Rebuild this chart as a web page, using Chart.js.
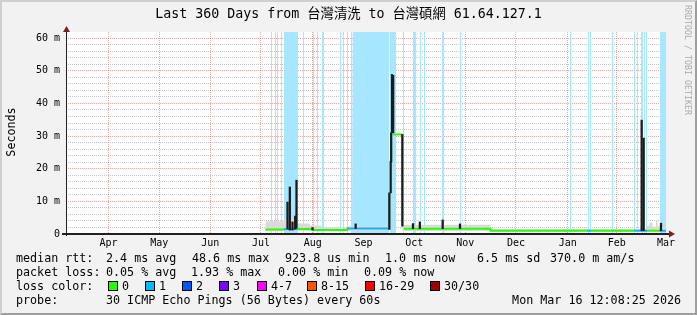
<!DOCTYPE html>
<html>
<head>
<meta charset="utf-8">
<script src="https://cdn.jsdelivr.net/npm/chart.js@4.4.1/dist/chart.umd.min.js"></script>
<style>
  html, body { margin: 0; padding: 0; background: #f2f2f2; }
  #wrap { position: relative; width: 697px; height: 315px; overflow: hidden;
          font-family: "DejaVu Sans Mono", "Noto Sans CJK TC", monospace; color: #000; }
  #frame { position: absolute; left: 0; top: 0; width: 697px; height: 315px; box-sizing: border-box;
           border-top: 2px solid #cfcfcf; border-left: 2px solid #cfcfcf;
           border-right: 2px solid #9e9e9e; border-bottom: 2px solid #9e9e9e; background: #f2f2f2; }
  canvas { position: absolute; left: 0; top: 0; }
  #title { position: absolute; left: 0; top: 6px; width: 697px; text-align: center;
           font-size: 13.3px; line-height: 16px; white-space: pre; }
  #ylab { position: absolute; left: -39px; top: 125px; width: 100px; text-align: center;
          font-size: 11.7px; line-height: 14px; transform: rotate(-90deg); }
  #mark { position: absolute; left: 628px; top: 55px; width: 120px; text-align: center;
          font-size: 8.3px; line-height: 10px; color: #ababab; transform: rotate(90deg); white-space: pre; }
  .t { position: absolute; white-space: pre; font-size: 11.7px; line-height: 14px; }
  .sw { position: absolute; width: 10px; height: 10px; box-sizing: border-box; border: 1px solid #000; }
</style>
</head>
<body>
<div id="wrap">
  <div id="frame"></div>
  <canvas id="chart" width="697" height="315"></canvas>
  <div id="title">Last 360 Days from 台灣清洗 to 台灣碩網 61.64.127.1</div>
  <div id="ylab">Seconds</div>
  <div id="mark">RRDTOOL / TOBI OETIKER</div>

  <span class="t" style="left:16px;top:251px">median rtt:</span>
  <span class="t" style="left:106px;top:251px">2.4 ms avg</span>
  <span class="t" style="left:192px;top:251px">48.6 ms max</span>
  <span class="t" style="left:285px;top:251px">923.8 us min</span>
  <span class="t" style="left:385px;top:251px">1.0 ms now</span>
  <span class="t" style="left:477px;top:251px">6.5 ms sd</span>
  <span class="t" style="left:550px;top:251px">370.0 m am/s</span>

  <span class="t" style="left:16px;top:265px">packet loss:</span>
  <span class="t" style="left:106px;top:265px">0.05 % avg</span>
  <span class="t" style="left:191px;top:265px">1.93 % max</span>
  <span class="t" style="left:278px;top:265px">0.00 % min</span>
  <span class="t" style="left:364px;top:265px">0.09 % now</span>

  <span class="t" style="left:16px;top:279px">loss color:</span>
  <span class="sw" style="left:108px;top:281px;background:#26ff00"></span><span class="t" style="left:122px;top:279px">0</span>
  <span class="sw" style="left:145px;top:281px;background:#00b8ff"></span><span class="t" style="left:159px;top:279px">1</span>
  <span class="sw" style="left:182px;top:281px;background:#0059ff"></span><span class="t" style="left:196px;top:279px">2</span>
  <span class="sw" style="left:219px;top:281px;background:#7e00ff"></span><span class="t" style="left:233px;top:279px">3</span>
  <span class="sw" style="left:257px;top:281px;background:#ff00ff"></span><span class="t" style="left:271px;top:279px">4-7</span>
  <span class="sw" style="left:307px;top:281px;background:#ff5500"></span><span class="t" style="left:321px;top:279px">8-15</span>
  <span class="sw" style="left:365px;top:281px;background:#ff0000"></span><span class="t" style="left:379px;top:279px">16-29</span>
  <span class="sw" style="left:430px;top:281px;background:#a10000"></span><span class="t" style="left:444px;top:279px">30/30</span>

  <span class="t" style="left:16px;top:293px">probe:</span>
  <span class="t" style="left:106px;top:293px">30 ICMP Echo Pings (56 Bytes) every 60s</span>
  <span class="t" style="right:16px;top:293px">Mon Mar 16 12:08:25 2026</span>
</div>

<script>
// time window: 360 days ending at the graph timestamp, x values are days since window start
const endTime = Date.UTC(2026, 2, 16, 12, 8, 25);
const spanDays = 360;
const startTime = endTime - spanDays * 86400000;
const dayOf = s => (Date.parse(s + 'T00:00:00Z') - startTime) / 86400000;

const monthNames = ['Apr','May','Jun','Jul','Aug','Sep','Oct','Nov','Dec','Jan','Feb','Mar'];
const monthEdges = ['2025-04-01','2025-05-01','2025-06-01','2025-07-01','2025-08-01','2025-09-01',
                    '2025-10-01','2025-11-01','2025-12-01','2026-01-01','2026-02-01','2026-03-01','2026-04-01'];

const yTop = 61.9; // ms, top of the value axis

// loss colours, index = loss bucket (0, 1, 2, 3, 4-7, 8-15, 16-29, 30/30)
const lossColors = ['#26ff00','#00b8ff','#0059ff','#7e00ff','#ff00ff','#ff5500','#ff0000','#a10000'];

// periods with 1/30 packet loss (background shading), [from, to] in days (0.6 day steps)
const lossBands = [
  [123.0,123.6],[125.4,126.0],[126.6,127.2],[129.0,129.6],[130.8,139.2],
  [142.2,142.8],[148.2,148.8],[150.6,151.2],[153.6,154.8],
  [164.4,165.0],[166.2,166.8],[168.6,169.2],[171.0,171.6],[172.2,193.8],
  [194.4,198.0],[201.0,201.6],[202.2,202.8],[208.2,210.0],[212.4,213.0],[214.8,215.4],
  [225.6,226.8],[236.4,237.0],[264.6,265.2],[302.4,303.0],[313.2,313.8],[314.4,315.0],
  [327.6,328.2],[340.8,341.4],[342.6,343.2],[343.8,344.4],[345.0,346.2],[346.8,347.4],
  [348.0,348.6],[356.4,360.0]
];

// smoke (spread of the 30 pings), ms, step values
const smokeDay = [119.6,130.9,139.0,146.3,153.3,168.3,193.6,193.7,202.8,254.7,345.0,348.0,350.0,352.0,354.0,355.0,357.0,358.0,360.0];
const smokeHi  = [3.9,  4.5,  3.2,  2.6,  2.0,  2.4,  2.4,  null, 2.8,  1.5,  1.6,  2.5,  3.5,  2.2,  4.3,  2.4,  3.3,  2.0,  2.0];
const smokeLo  = [0.9,  0.9,  0.9,  0.9,  0.9,  0.9,  0.9,  null, 0.9,  0.8,  0.8,  0.8,  0.8,  0.8,  0.8,  0.8,  0.8,  0.8,  0.8];

// median rtt, ms, with loss bucket of each step
const medDay  = [119.6,130.9,139.0,148.3,168.6,193.6,193.7,196.3,201.8,201.9,202.8,254.7,313.2,315.0,340.8,348.6,356.4,360.0];
const medMs   = [1.4,  1.5,  1.5,  1.2,  1.7,  1.7,  null, 30.5, 30.5, null, 1.6,  1.0,  1.0,  1.0,  1.0,  1.0,  1.0,  1.0];
const medLoss = [0,    1,    0,    0,    1,    1,    0,    0,    0,    0,    0,    0,    1,    0,    1,    0,    1,    1];

// dense smoke columns (dark spikes), ms
const spikeDay = [132.9,134.3,135.9,137.5,138.3,147.9,173.8,194.0,194.8,195.1,195.6,196.3,201.8,208.2,212.3,226.0,236.4,345.4,346.6,357.0];
const spikeLo  = [1.5,  1.2,  1.2,  1.5,  1.8,  1.2,  1.7,  1.4,  12.6, 22.0, 31.0, 31.0, 2.4,  1.6,  1.6,  1.6,  1.6,  1.0,  1.0,  1.0];
const spikeHi  = [9.8,  14.4, 3.7,  5.5,  16.5, 2.0,  3.1,  12.6, 22.3, 31.0, 48.9, 48.6, 30.5, 3.2,  3.7,  4.3,  3.1,  34.9, 29.4, 3.3];

const mono = 'DejaVu Sans Mono';
const majorGrid = 'rgba(235,60,60,0.45)';
const minorGrid = 'rgba(128,128,128,0.45)';

const bandPts = [];
lossBands.forEach(([s, e]) => {
  bandPts.push({x: s, y: 0}, {x: s, y: yTop}, {x: e, y: yTop}, {x: e, y: 0});
});

const rrdFrame = {
  id: 'rrdFrame',
  beforeDraw(chart) {
    const {ctx, chartArea: a} = chart;
    ctx.save();
    ctx.fillStyle = '#ffffff';
    ctx.fillRect(a.left, a.top, a.right - a.left, a.bottom - a.top);
    ctx.restore();
  },
  afterDraw(chart) {
    const {ctx, chartArea: a} = chart;
    ctx.save();
    ctx.fillStyle = '#202020';
    ctx.fillRect(a.left - 4, a.bottom - 1, a.right - a.left + 7, 2);
    ctx.fillRect(a.left, a.top - 2, 1, a.bottom - a.top + 4);
    ctx.fillStyle = '#7f1f1f';
    ctx.beginPath();
    ctx.moveTo(a.left + 0.5, a.top - 6);
    ctx.lineTo(a.left - 3, a.top);
    ctx.lineTo(a.left + 4, a.top);
    ctx.fill();
    ctx.beginPath();
    ctx.moveTo(a.right + 9, a.bottom);
    ctx.lineTo(a.right + 3, a.bottom - 3.5);
    ctx.lineTo(a.right + 3, a.bottom + 3.5);
    ctx.fill();
    ctx.restore();
  }
};

new Chart(document.getElementById('chart'), {
  type: 'line',
  data: {
    datasets: [
      {
        label: 'loss background',
        data: bandPts,
        borderColor: 'transparent',
        borderWidth: 0,
        backgroundColor: '#a6e6ff',
        fill: 'origin',
        order: 10
      },
      {
        label: 'smoke low',
        data: smokeDay.map((x, i) => ({x, y: smokeLo[i]})),
        borderColor: 'transparent',
        borderWidth: 0,
        stepped: true,
        fill: false,
        order: 8
      },
      {
        label: 'smoke',
        data: smokeDay.map((x, i) => ({x, y: smokeHi[i]})),
        borderColor: 'transparent',
        borderWidth: 0,
        backgroundColor: '#dadada',
        stepped: true,
        fill: '-1',
        order: 7
      },
      {
        label: 'median rtt',
        data: medDay.map((x, i) => ({x, y: medMs[i]})),
        borderWidth: 2,
        stepped: true,
        fill: false,
        segment: { borderColor: c => lossColors[medLoss[c.p0DataIndex]] },
        borderColor: lossColors[0],
        order: 2
      },
      {
        type: 'bar',
        label: 'spikes',
        data: spikeDay.map((x, i) => ({x, y: [spikeLo[i], spikeHi[i]]})),
        backgroundColor: '#1c1c1c',
        barThickness: 1.6,
        grouped: false,
        order: 1
      }
    ]
  },
  options: {
    responsive: false,
    animation: false,
    events: [],
    layout: { padding: { left: 0, top: 32, right: 31, bottom: 61 } },
    elements: { point: { radius: 0 }, line: { tension: 0 } },
    plugins: { legend: { display: false }, tooltip: { enabled: false } },
    scales: {
      x: {
        type: 'linear', min: 0, max: spanDays, bounds: 'data', offset: false,
        afterBuildTicks: s => { s.ticks = monthEdges.slice(0, 12).map(d => ({value: dayOf(d)})); },
        afterFit: s => { s.height = 0; },
        border: { display: false, dash: [1, 1] },
        grid: { color: majorGrid, drawTicks: false },
        ticks: { display: false }
      },
      xl: {
        type: 'linear', position: 'bottom', min: 0, max: spanDays, bounds: 'data', offset: false,
        afterBuildTicks: s => {
          s.ticks = monthNames.map((n, i) => ({value: (dayOf(monthEdges[i]) + dayOf(monthEdges[i + 1])) / 2}));
        },
        afterFit: s => { s.height = 20; },
        border: { display: false },
        grid: { display: false, drawTicks: false },
        ticks: {
          autoSkip: false, maxRotation: 0, padding: 3, color: '#000',
          font: { family: mono, size: 10 },
          callback: (v, i) => monthNames[i]
        }
      },
      y: {
        min: 0, max: yTop, bounds: 'data',
        afterFit: s => { s.width = 66; },
        border: { display: false, dash: [1, 1] },
        grid: { color: c => (c.tick.value % 10 === 0 ? majorGrid : minorGrid), drawTicks: false },
        ticks: {
          stepSize: 2, includeBounds: false, autoSkip: false, padding: 6, color: '#000',
          font: { family: mono, size: 10 },
          callback: v => (v % 10 === 0 ? (v === 0 ? '0' : v + ' m') : '')
        }
      }
    }
  },
  plugins: [rrdFrame]
});
</script>
</body>
</html>
